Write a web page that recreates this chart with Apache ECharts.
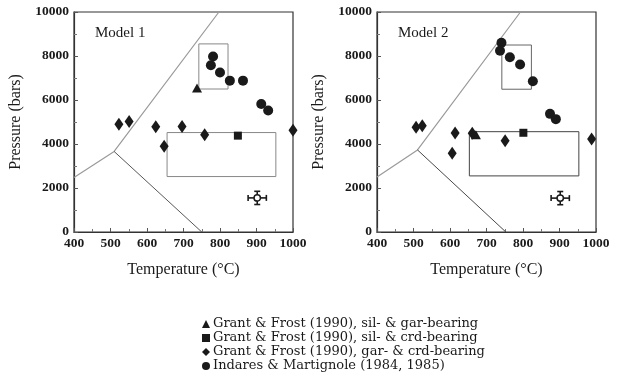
<!DOCTYPE html>
<html>
<head>
<meta charset="utf-8">
<script src="https://cdn.jsdelivr.net/npm/echarts@6/dist/echarts.min.js"></script>
<style>html,body{margin:0;padding:0;background:#fff;}#c{width:622px;height:379px;}</style>
</head>
<body>
<div id="c"></div>
<script>
// ---- Data ----
const xTicks = [400, 500, 600, 700, 800, 900, 1000];
const yTicks = [0, 2000, 4000, 6000, 8000, 10000];
const seriesNames = [
  'Grant & Frost (1990), sil- & gar-bearing',
  'Grant & Frost (1990), sil- & crd-bearing',
  'Grant & Frost (1990), gar- & crd-bearing',
  'Indares & Martignole (1984, 1985)'
];
const panelTitles = ['Model 1', 'Model 2'];

// Model 1
const m1Triangle = [[737, 6550]];
const m1Square = [[849, 4380]];
const m1Diamond = [[523, 4900], [551, 5020], [624, 4780], [647, 3900], [696, 4790], [758, 4420], [1000, 4620]];
const m1Circle = [[781, 7980], [775, 7580], [800, 7250], [827, 6880], [863, 6880], [913, 5820], [932, 5520]];
const m1BoundaryUpper = [[400, 2480], [510, 3660], [797, 10000]];
const m1BoundaryLower = [[510, 3660], [750, 0]];
const m1BoxHigh = [[742, 6500], [822, 6500], [822, 8550], [742, 8550], [742, 6500]];
const m1BoxLow = [[655, 2520], [953, 2520], [953, 4520], [655, 4520], [655, 2520]];
const m1Error = [[902, 1550, 25, 300]];

// Model 2
const m2Triangle = [[671, 4420]];
const m2Square = [[801, 4510]];
const m2Diamond = [[507, 4760], [524, 4830], [614, 4500], [606, 3580], [661, 4490], [751, 4150], [988, 4230]];
const m2Circle = [[741, 8600], [737, 8240], [764, 7940], [792, 7610], [827, 6850], [874, 5370], [890, 5130]];
const m2BoundaryUpper = [[400, 2500], [511, 3730], [793, 10000]];
const m2BoundaryLower = [[511, 3730], [753, 0]];
const m2BoxHigh = [[742, 6490], [823, 6490], [823, 8500], [742, 8500], [742, 6490]];
const m2BoxLow = [[653, 2550], [953, 2550], [953, 4560], [653, 4560], [653, 2550]];
const m2Error = [[902, 1540, 25, 300]];

// ---- Chart ----
const serif = 'Liberation Serif, Times New Roman, serif';
const wideSerif = 'DejaVu Serif, serif';
const ink = '#1a1a1a';
const chart = echarts.init(document.getElementById('c'));

function xAxis(gi) {
  return {
    gridIndex: gi, type: 'value', min: xTicks[0], max: xTicks[xTicks.length - 1], interval: 100,
    name: 'Temperature (°C)', nameLocation: 'middle', nameGap: 30,
    nameTextStyle: { fontFamily: serif, fontSize: 16, color: ink },
    axisLine: { show: true, lineStyle: { color: '#333', width: 1.2 } },
    axisTick: { inside: true, length: 4, lineStyle: { color: '#555' } },
    minorTick: { show: true, splitNumber: 2, length: 3, lineStyle: { color: '#777' } },
    axisLabel: { fontFamily: serif, fontSize: 13.5, fontWeight: 'bold', color: ink, margin: 5,
      formatter: function (v) { return String(v); } },
    splitLine: { show: false }
  };
}
function yAxis(gi) {
  return {
    gridIndex: gi, type: 'value', min: yTicks[0], max: yTicks[yTicks.length - 1], interval: 2000,
    name: 'Pressure (bars)', nameLocation: 'middle', nameGap: 50,
    nameTextStyle: { fontFamily: serif, fontSize: 16, color: ink },
    axisLine: { show: true, lineStyle: { color: '#333', width: 1.2 } },
    axisTick: { inside: true, length: 4, lineStyle: { color: '#555' } },
    minorTick: { show: true, splitNumber: 2, length: 3, lineStyle: { color: '#777' } },
    axisLabel: { fontFamily: serif, fontSize: 13.5, fontWeight: 'bold', color: ink, margin: 5,
      formatter: function (v) { return String(v); } },
    splitLine: { show: false }
  };
}

function lineSeries(gi, data, color, width) {
  return {
    type: 'line', xAxisIndex: gi, yAxisIndex: gi, data: data,
    symbol: 'none', silent: true, z: 1,
    lineStyle: { color: color, width: width }
  };
}
function scatter(gi, name, data, symbol, size) {
  return {
    type: 'scatter', name: name, xAxisIndex: gi, yAxisIndex: gi, data: data,
    symbol: symbol, symbolSize: size, z: 5,
    itemStyle: { color: ink, opacity: 1 }
  };
}
function errorSeries(gi, data) {
  return {
    type: 'custom', xAxisIndex: gi, yAxisIndex: gi, data: data, z: 6, silent: true,
    renderItem: function (params, api) {
      const x = api.value(0), y = api.value(1), dx = api.value(2), dy = api.value(3);
      const c = api.coord([x, y]);
      const l = api.coord([x - dx, y]), r = api.coord([x + dx, y]);
      const t = api.coord([x, y + dy]), b = api.coord([x, y - dy]);
      const st = { stroke: ink, lineWidth: 1.6 };
      const cap = 3;
      return {
        type: 'group', children: [
          { type: 'line', shape: { x1: l[0], y1: c[1], x2: r[0], y2: c[1] }, style: st },
          { type: 'line', shape: { x1: c[0], y1: t[1], x2: c[0], y2: b[1] }, style: st },
          { type: 'line', shape: { x1: l[0], y1: c[1] - cap, x2: l[0], y2: c[1] + cap }, style: st },
          { type: 'line', shape: { x1: r[0], y1: c[1] - cap, x2: r[0], y2: c[1] + cap }, style: st },
          { type: 'line', shape: { x1: c[0] - cap, y1: t[1], x2: c[0] + cap, y2: t[1] }, style: st },
          { type: 'line', shape: { x1: c[0] - cap, y1: b[1], x2: c[0] + cap, y2: b[1] }, style: st },
          { type: 'circle', shape: { cx: c[0], cy: c[1], r: 3.2 }, style: { fill: '#fff', stroke: ink, lineWidth: 1.5 } }
        ]
      };
    }
  };
}

const option = {
  backgroundColor: '#fff',
  animation: false,
  grid: [
    { left: 74, top: 12, width: 219, height: 220, show: true, borderColor: '#333', borderWidth: 1.2 },
    { left: 377, top: 12, width: 219, height: 220, show: true, borderColor: '#333', borderWidth: 1.2 }
  ],
  xAxis: [xAxis(0), xAxis(1)],
  yAxis: [yAxis(0), yAxis(1)],
  graphic: [
    { type: 'text', left: 95, top: 26, style: { text: panelTitles[0], font: '15px ' + serif, fill: ink } },
    { type: 'text', left: 398, top: 26, style: { text: panelTitles[1], font: '15px ' + serif, fill: ink } }
  ],
  legend: {
    data: seriesNames, orient: 'vertical', left: 197, top: 312,
    itemWidth: 8, itemHeight: 8, itemGap: 0,
    textStyle: { fontFamily: wideSerif, fontSize: 13, color: ink, lineHeight: 14, padding: [0, 0, 0, -2] },
    selectedMode: false
  },
  series: [
    lineSeries(0, m1BoundaryUpper, '#9a9a9a', 1.2),
    lineSeries(0, m1BoundaryLower, '#444', 0.9),
    lineSeries(0, m1BoxHigh, '#888', 1),
    lineSeries(0, m1BoxLow, '#888', 1),
    scatter(0, seriesNames[0], m1Triangle, 'triangle', [10, 9]),
    scatter(0, seriesNames[1], m1Square, 'rect', 8),
    scatter(0, seriesNames[2], m1Diamond, 'diamond', [9, 13]),
    scatter(0, seriesNames[3], m1Circle, 'circle', 10),
    errorSeries(0, m1Error),

    lineSeries(1, m2BoundaryUpper, '#9a9a9a', 1.2),
    lineSeries(1, m2BoundaryLower, '#333', 0.9),
    lineSeries(1, m2BoxHigh, '#666', 1),
    lineSeries(1, m2BoxLow, '#444', 1),
    scatter(1, seriesNames[0], m2Triangle, 'triangle', [10, 9]),
    scatter(1, seriesNames[1], m2Square, 'rect', 8),
    scatter(1, seriesNames[2], m2Diamond, 'diamond', [9, 13]),
    scatter(1, seriesNames[3], m2Circle, 'circle', 10),
    errorSeries(1, m2Error)
  ]
};
chart.setOption(option);
</script>
</body>
</html>
